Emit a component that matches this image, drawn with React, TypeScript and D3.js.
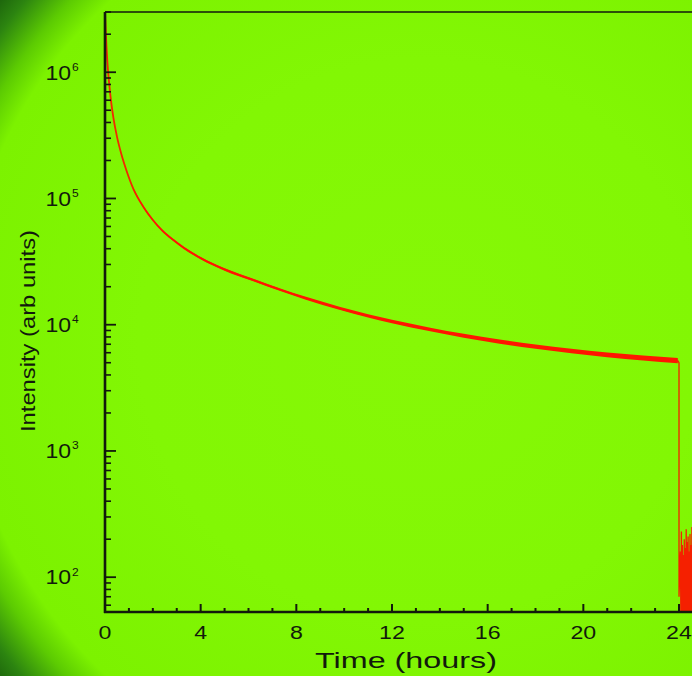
import * as d3 from 'd3';

// afterglow decay
const decayTime = [0, 0.03, 0.1, 0.17, 0.24, 0.35, 0.5, 0.7, 0.9, 1.2, 1.6, 2.0, 2.4, 2.9, 3.3, 4.0, 5.0, 6.2, 7.3, 8.4, 9.8, 11.0, 12.0, 13.6, 15.0, 16.5, 18.0, 19.5, 21.0, 22.5, 23.95];
const decayIntensity = [3.0e6, 2.14e6, 1.2e6, 8.3e5, 6.17e5, 4.37e5, 3.09e5, 2.19e5, 1.66e5, 1.175e5, 8.6e4, 6.76e4, 5.56e4, 4.62e4, 4.06e4, 3.37e4, 2.74e4, 2.26e4, 1.9e4, 1.62e4, 1.35e4, 1.175e4, 1.06e4, 9.16e3, 8.18e3, 7.35e3, 6.7e3, 6.19e3, 5.78e3, 5.46e3, 5.2e3];

// excitation switched off at 24 h: drop + background noise
const tailTime = [24.0, 24.0, 24.06, 24.08, 24.1, 24.12, 24.14, 24.16, 24.18, 24.2, 24.22, 24.24, 24.26, 24.28, 24.3, 24.32, 24.34, 24.36, 24.38, 24.4, 24.42, 24.44, 24.46, 24.48, 24.5, 24.52, 24.54, 24.56, 24.58, 24.6];
const tailIntensity = [5.0e3, 70, 160, 40, 230, 35, 180, 45, 150, 30, 200, 40, 170, 35, 240, 45, 190, 30, 210, 40, 160, 35, 220, 45, 180, 30, 250, 40, 190, 35];

const xMajorTicks = [0, 4, 8, 12, 16, 20, 24];
const yMajorTicks = [1e2, 1e3, 1e4, 1e5, 1e6];
const yExponents = ['2', '3', '4', '5', '6'];

const W = 692;
const H = 676;
const left = 105, top = 12, bottom = 612;
const font = '"Liberation Sans", Arial, sans-serif';
const ink = '#121a0c';

type P = { t: number; v: number };

const App = () => {
  const x = d3.scaleLinear().domain([0, 26]).range([left, left + 26 * 23.917]);
  const y = d3.scaleLog().domain([53, 3.0e6]).range([bottom, top]);

  const decay: P[] = decayTime.map((t, i) => ({ t, v: decayIntensity[i] }));
  const tail: P[] = [decay[decay.length - 1]].concat(tailTime.map((t, i) => ({ t, v: tailIntensity[i] })));

  const smooth = d3.line<P>().x(d => x(d.t)).y(d => y(d.v)).curve(d3.curveMonotoneX);
  const straight = d3.line<P>().x(d => x(d.t)).y(d => y(d.v));
  // noisy trace gets wider with time
  const half = (t: number) => 0.8 + 0.075 * t;
  const band = d3.area<P>()
    .x(d => x(d.t))
    .y0(d => y(d.v) - half(d.t))
    .y1(d => y(d.v) + half(d.t))
    .curve(d3.curveMonotoneX);

  const xMinor = x.ticks(26).filter(t => !xMajorTicks.includes(t));
  const yMinor = y.ticks().filter(v => !yMajorTicks.includes(v) && v <= 3.0e6);

  return (
    <svg width={W} height={H} style={{ position: 'absolute', left: 0, top: 0 }}>
      <defs>
        <radialGradient id="glow" gradientUnits="userSpaceOnUse" cx={420} cy={340} r={560}>
          <stop offset="0" stopColor="#86f806" />
          <stop offset="0.5" stopColor="#82f704" />
          <stop offset="0.82" stopColor="#7cf200" />
          <stop offset="0.87" stopColor="#5ccb02" />
          <stop offset="0.93" stopColor="#2c8410" />
          <stop offset="1" stopColor="#0f4a08" />
        </radialGradient>
        <clipPath id="plot">
          <rect x={left} y={top} width={W - left} height={bottom - top} />
        </clipPath>
      </defs>
      <rect width={W} height={H} fill="url(#glow)" />

      <g clipPath="url(#plot)">
        <path d={smooth(decay) ?? ''} fill="none" stroke="#f22800" strokeWidth={1.8} />
        <path d={band(decay.filter(d => d.t >= 1.2)) ?? ''} fill="#ff1600" />
        <path d={straight(tail) ?? ''} fill="none" stroke="#f52000" strokeWidth={1.3} />
      </g>

      {/* frame */}
      <line x1={left} x2={W} y1={top} y2={top} stroke={ink} strokeWidth={1.6} />
      <line x1={left} x2={left} y1={top} y2={bottom + 1} stroke={ink} strokeWidth={2.6} />
      <line x1={left - 1} x2={W} y1={bottom} y2={bottom} stroke={ink} strokeWidth={2.4} />

      {/* y ticks */}
      {yMajorTicks.map(v => (
        <line key={'ym' + v} x1={left} x2={left + 11} y1={y(v)} y2={y(v)} stroke={ink} strokeWidth={1.8} />
      ))}
      {yMinor.map(v => (
        <line key={'yn' + v} x1={left} x2={left + 6} y1={y(v)} y2={y(v)} stroke={ink} strokeWidth={1.6} />
      ))}
      {yMajorTicks.map((v, i) => (
        <g key={'yl' + v} fill={ink} fontFamily={font}>
          <text transform={`translate(71,${y(v) + 7.3}) scale(1.15,1)`} textAnchor="end" fontSize={20}>10</text>
          <text transform={`translate(72,${y(v) - 1.5}) scale(1.2,1)`} fontSize={10}>{yExponents[i]}</text>
        </g>
      ))}

      {/* x ticks */}
      {xMajorTicks.map(t => (
        <line key={'xm' + t} x1={x(t)} x2={x(t)} y1={bottom} y2={bottom - 8} stroke={ink} strokeWidth={2} />
      ))}
      {xMinor.map(t => (
        <line key={'xn' + t} x1={x(t)} x2={x(t)} y1={bottom} y2={bottom - 4} stroke={ink} strokeWidth={2} />
      ))}
      {xMajorTicks.map(t => (
        <text key={'xl' + t} transform={`translate(${x(t)},639) scale(1.22,1)`} textAnchor="middle"
          fontSize={19} fontFamily={font} fill={ink}>{t}</text>
      ))}

      <text x={406} y={668} textAnchor="middle" fontSize={22} fontFamily={font} fill={ink}
        textLength={182} lengthAdjust="spacingAndGlyphs">Time (hours)</text>
      <text transform="translate(35,331) rotate(-90)" textAnchor="middle" fontSize={19.5} fontFamily={font} fill={ink}
        textLength={202} lengthAdjust="spacingAndGlyphs">Intensity (arb units)</text>
    </svg>
  );
};

export default App;
